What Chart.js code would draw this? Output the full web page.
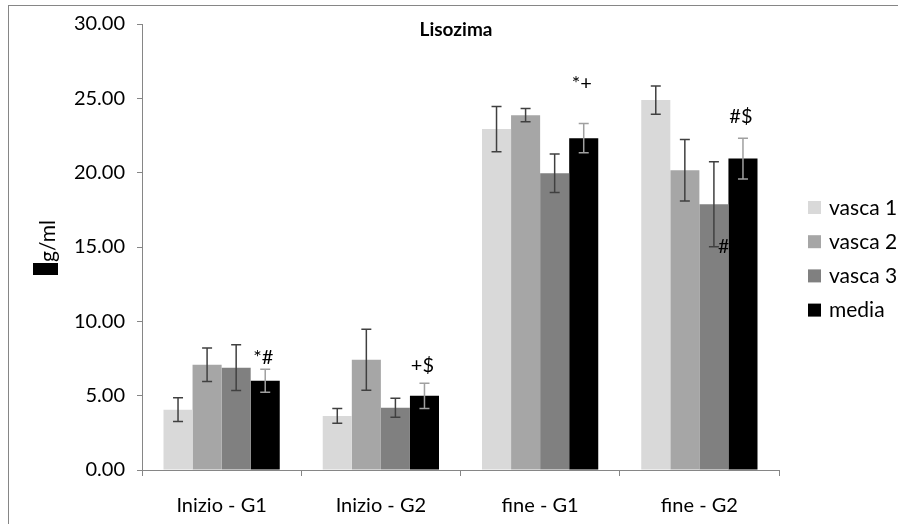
<!DOCTYPE html>
<html>
<head>
<meta charset="utf-8">
<script src="https://cdn.jsdelivr.net/npm/chart.js@4"></script>
<style>
  body { margin: 0; background: #fff; }
  canvas { display: block; }
</style>
</head>
<body>
<canvas id="chart" width="898" height="524"></canvas>
<script>
// dati
const categories = ['Inizio - G1', 'Inizio - G2', 'fine - G1', 'fine - G2'];
const seriesNames = ['vasca 1', 'vasca 2', 'vasca 3', 'media'];
const vasca1 = [4.06, 3.64, 22.93, 24.88];
const vasca2 = [7.08, 7.42, 23.87, 20.16];
const vasca3 = [6.88, 4.18, 19.96, 17.87];
const media = [6.00, 4.99, 22.32, 20.95];
const errVasca1 = [0.80, 0.49, 1.52, 0.95];
const errVasca2 = [1.12, 2.05, 0.44, 2.07];
const errVasca3 = [1.54, 0.64, 1.29, 2.86];
const errMedia = [0.77, 0.85, 0.98, 1.37];
const yTicks = [0, 5, 10, 15, 20, 25, 30];

// etichette di significatività sopra le barre "media"
const mediaMarks = ['*#', '+$', '*+', '#$'];
const mediaMarkY = [7.55, 7.0, 26.0, 23.75];

const FONT = 'Lato, "Open Sans", sans-serif';
const AXIS_GREY = '#868686';

const barColors = ['#d9d9d9', '#a6a6a6', '#808080', '#000000'];
const errColors = ['#404040', '#404040', '#404040', '#a0a0a0'];
const values = [vasca1, vasca2, vasca3, media];
const errors = [errVasca1, errVasca2, errVasca3, errMedia];

const errorBarsPlugin = {
    id: 'errorBars',
    afterDatasetsDraw(chart) {
        const ctx = chart.ctx;
        const y = chart.scales.y;
        ctx.save();

        // il "#" vicino a vasca 3 (fine - G2): tagliato dal bordo della barra nera
        const v3 = chart.getDatasetMeta(2).data[3];
        const m4 = chart.getDatasetMeta(3).data[3];
        ctx.save();
        ctx.beginPath();
        ctx.rect(0, 0, m4.x - m4.width / 2, chart.height);
        ctx.clip();
        ctx.font = '20px ' + FONT;
        ctx.fillStyle = '#000';
        ctx.textAlign = 'center';
        ctx.textBaseline = 'middle';
        ctx.fillText('#', v3.x + 10, y.getPixelForValue(vasca3[3] - errVasca3[3]));
        ctx.restore();

        values.forEach((vals, d) => {
            const meta = chart.getDatasetMeta(d);
            meta.data.forEach((bar, i) => {
                const top = y.getPixelForValue(vals[i] + errors[d][i]);
                const bottom = y.getPixelForValue(vals[i] - errors[d][i]);
                ctx.strokeStyle = errColors[d];
                ctx.lineWidth = 1.5;
                ctx.beginPath();
                ctx.moveTo(bar.x, top);
                ctx.lineTo(bar.x, bottom);
                ctx.moveTo(bar.x - 5, top);
                ctx.lineTo(bar.x + 5, top);
                ctx.moveTo(bar.x - 5, bottom);
                ctx.lineTo(bar.x + 5, bottom);
                ctx.stroke();
            });
        });

        ctx.font = '20px ' + FONT;
        ctx.fillStyle = '#000';
        ctx.textAlign = 'center';
        ctx.textBaseline = 'middle';
        chart.getDatasetMeta(3).data.forEach((bar, i) => {
            ctx.fillText(mediaMarks[i], bar.x - 2, y.getPixelForValue(mediaMarkY[i]));
        });
        ctx.restore();
    },
    afterDraw(chart) {
        const ctx = chart.ctx;
        ctx.save();
        // cornice esterna
        ctx.strokeStyle = AXIS_GREY;
        ctx.lineWidth = 1;
        ctx.strokeRect(8.5, 5.5, 1000, 1000);

        // titolo
        ctx.fillStyle = '#000';
        ctx.font = 'bold 19px ' + FONT;
        ctx.textAlign = 'center';
        ctx.textBaseline = 'middle';
        ctx.fillText('Lisozima', 456, 30);

        // etichetta asse y (il simbolo µ appare come un blocco nero)
        ctx.fillRect(33, 263, 25, 12);
        ctx.translate(55, 262);
        ctx.rotate(-Math.PI / 2);
        ctx.textAlign = 'left';
        ctx.textBaseline = 'alphabetic';
        ctx.font = '21px ' + FONT;
        ctx.fillText('g/ml', 0, 0);
        ctx.restore();

        // legenda
        ctx.save();
        ctx.font = '21px ' + FONT;
        ctx.textBaseline = 'middle';
        seriesNames.forEach((name, i) => {
            const top = 201 + i * 34.2;
            ctx.fillStyle = barColors[i];
            ctx.fillRect(808, top, 13, 13);
            ctx.fillStyle = '#000';
            ctx.fillText(name, 829, top + 7);
        });
        ctx.restore();
    }
};

const ctx = document.getElementById('chart').getContext('2d');
new Chart(ctx, {
    type: 'bar',
    data: {
        labels: categories,
        datasets: seriesNames.map((name, i) => ({
            label: name,
            data: values[i],
            backgroundColor: barColors[i],
            borderWidth: 0,
            categoryPercentage: 0.73,
            barPercentage: 1.0
        }))
    },
    options: {
        responsive: false,
        devicePixelRatio: 1,
        animation: false,
        layout: {
            padding: { left: 0, right: 119, top: 23, bottom: 0 }
        },
        plugins: {
            legend: { display: false },
            title: { display: false },
            tooltip: { enabled: false }
        },
        scales: {
            x: {
                offset: true,
                grid: {
                    offset: true,
                    drawOnChartArea: false,
                    drawTicks: true,
                    tickLength: 6,
                    color: AXIS_GREY
                },
                border: { color: AXIS_GREY },
                ticks: {
                    color: '#000',
                    padding: 18,
                    font: { family: FONT, size: 20 },
                    maxRotation: 0
                },
                afterFit(scale) { scale.height = 54; }
            },
            y: {
                min: 0,
                max: 30,
                afterBuildTicks(scale) {
                    scale.ticks = yTicks.map(v => ({ value: v }));
                },
                grid: {
                    drawOnChartArea: false,
                    drawTicks: true,
                    tickLength: 5,
                    color: AXIS_GREY
                },
                border: { color: AXIS_GREY },
                ticks: {
                    color: '#000',
                    padding: 12,
                    font: { family: FONT, size: 20 },
                    callback: v => v.toFixed(2)
                },
                afterFit(scale) { scale.width = 142; }
            }
        }
    },
    plugins: [errorBarsPlugin]
});
</script>
</body>
</html>
